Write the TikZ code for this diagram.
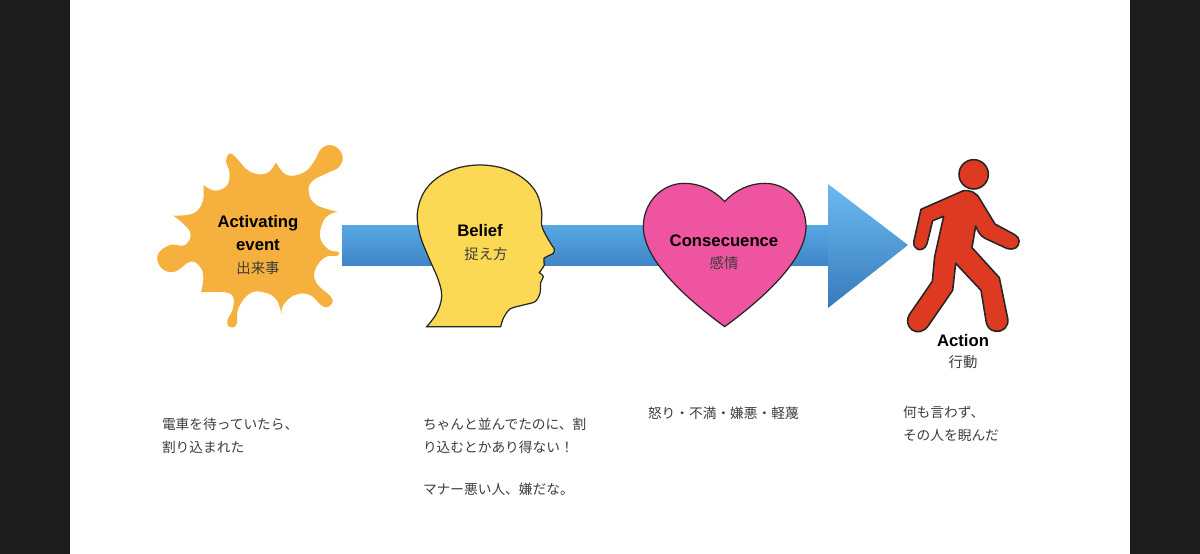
\documentclass[tikz,border=0pt]{standalone}
\usepackage{fontspec}
\setmainfont{Liberation Sans}
\newfontfamily\jpfont{Noto Sans CJK JP}
\usepackage{tikz}
\usetikzlibrary{arrows.meta}
\definecolor{sidebar}{HTML}{1C1C1C}
\definecolor{splatcol}{HTML}{F5B03D}
\definecolor{headcol}{HTML}{FBD955}
\definecolor{heartcol}{HTML}{EE549F}
\definecolor{walkercol}{HTML}{DE3A22}
\definecolor{arrowtop}{HTML}{6CBAF2}
\definecolor{arrowbot}{HTML}{377ABB}
\definecolor{bodytop}{HTML}{58A8E4}
\definecolor{bodybot}{HTML}{4085C6}
\definecolor{inkgrey}{HTML}{3C3C3C}

\begin{document}
\begin{tikzpicture}[x=0.02cm, y=-0.02cm,
        every node/.append style={inner sep=0pt, outer sep=0pt},
        title/.style={font=\bfseries\fontsize{9.5}{13}\selectfont, color=black, align=center},
        sub/.style={font=\jpfont\fontsize{8.2}{10}\selectfont, color=inkgrey, align=center},
        note/.style={font=\jpfont\fontsize{7.8}{13}\selectfont, color=inkgrey, align=left, anchor=north west},
        outline/.style={draw=black!85, line width=0.7pt},
        zoomed/.style={x=0.00667cm, y=-0.00667cm}]
      \useasboundingbox (0,0) rectangle (1200,554);
      \fill[sidebar] (0,0) rectangle (70,554);
      \fill[sidebar] (1130,0) rectangle (1200,554);

      % long arrow behind the figures
      \shade[top color=bodytop, bottom color=bodybot] (342,225) rectangle (830,265.5);
      \shade[top color=arrowtop, bottom color=arrowbot] (828,184) -- (908,245) -- (828,308) -- cycle;

      % splat
      \begin{scope}[shift={(140,130)}, zoomed]
        \fill[splatcol] plot[smooth, tension=0.7] coordinates {(408,97) (440,135) (490,128) (522,95) (545,55) (580,47) (607,75) (598,110) (560,130) (515,155) (507,190) (530,225) (592,245)}
          -- plot[smooth, tension=0.7] coordinates {(592,245) (555,265) (540,320) (565,358) (595,366) (592,377) (555,382) (525,420) (530,460) (572,500) (575,522) (550,530) (510,495) (465,495) (430,525) (425,555)}
          -- plot[smooth, tension=0.7] coordinates {(425,555) (410,510) (375,488) (330,490) (295,535) (290,582) (270,592) (262,572) (280,530) (268,490) (183,487)}
          -- plot[smooth, tension=0.7] coordinates {(183,487) (190,445) (180,410) (150,395) (105,425) (65,415) (53,375) (90,345) (135,345) (150,305) (100,257)}
          -- plot[smooth, tension=0.7] coordinates {(100,257) (160,250) (188,215) (190,165)}
          -- plot[smooth, tension=0.7] coordinates {(190,165) (225,182) (262,165) (268,125) (258,95) (270,70) (290,85) (330,125) (380,130) (408,97)} -- cycle;
      \end{scope}

      % head in profile
      \begin{scope}[shift={(400,150)}, zoomed]
        \draw[fill=headcol, outline] plot[smooth, tension=0.6] coordinates {(80,530) (110,490) (125,440) (115,390) (85,320) (60,255) (52,190) (70,130) (110,85) (170,55) (240,45) (310,55) (370,85) (410,130) (425,185) (425,225) (440,260) (463,297)}
          -- plot[smooth, tension=0.5] coordinates {(463,297) (460,310) (432,325) (433,345) (418,368)}
          -- plot[smooth, tension=0.5] coordinates {(418,368) (430,380) (422,398) (420,430) (405,455) (370,465) (330,477) (310,505) (302,530)} -- cycle;
      \end{scope}

      % heart
      \begin{scope}[shift={(630,170)}, zoomed]
        \draw[fill=heartcol, outline] (284,95) .. controls (315,60) and (360,40) .. (405,40)
          .. controls (475,40) and (528,100) .. (528,170)
          .. controls (528,270) and (400,385) .. (284,470)
          .. controls (168,385) and (40,270) .. (40,170)
          .. controls (40,100) and (93,40) .. (163,40)
          .. controls (208,40) and (253,60) .. (284,95) -- cycle;
      \end{scope}

      % walking figure
      \begin{scope}[shift={(890,150)}, zoomed]
        \draw[fill=walkercol, outline, line width=0.9pt] (251,73) circle (44);
        \draw[fill=walkercol, outline, line width=0.9pt, line join=round]
          (93,178) -- (218,123) .. controls (240,118) and (260,128) .. (270,148)
          -- (315,222) -- (374,254) .. controls (392,263) and (390,285) .. (378,293) .. controls (370,298) and (358,298) .. (350,295)
          -- (285,265) .. controls (272,258) and (264,246) .. (257,228)
          -- (246,293) -- (328,383) -- (353,505) .. controls (358,530) and (337,547) .. (318,544) .. controls (301,542) and (292,532) .. (289,518)
          -- (273,421) -- (197,340) -- (188,421) -- (115,527) .. controls (101,547) and (80,550) .. (65,539) .. controls (50,526) and (50,508) .. (58,494)
          -- (127,394) -- (134,320) -- (161,199) -- (128,212) -- (111,281) .. controls (106,297) and (93,301) .. (83,298) .. controls (74,295) and (70,286) .. (72,272)
          -- cycle;
      \end{scope}

      % titles
      \node (activating) [title] at (258,233) {Activating\\event};
      \node (activatingjp) [sub] at (258,268) {出来事};
      \node (belief) [title] at (480,231) {Belief};
      \node (beliefjp) [sub] at (486,254) {捉え方};
      \node (consecuence) [title] at (724,241) {Consecuence};
      \node (consecuencejp) [sub] at (724,263) {感情};
      \node (action) [title] at (963,341) {Action};
      \node (actionjp) [sub] at (963,362) {行動};

      % notes below
      \node (noteA) [note] at (162,418) {電車を待っていたら、\\割り込まれた};
      \node (noteB) [note] at (423,418) {ちゃんと並んでたのに、割\\り込むとかあり得ない！\\[10.8pt]マナー悪い人、嫌だな。};
      \node (noteC) [note] at (648,407) {怒り・不満・嫌悪・軽蔑};
      \node (noteD) [note] at (903,406) {何も言わず、\\その人を睨んだ};
\end{tikzpicture}
\end{document}
